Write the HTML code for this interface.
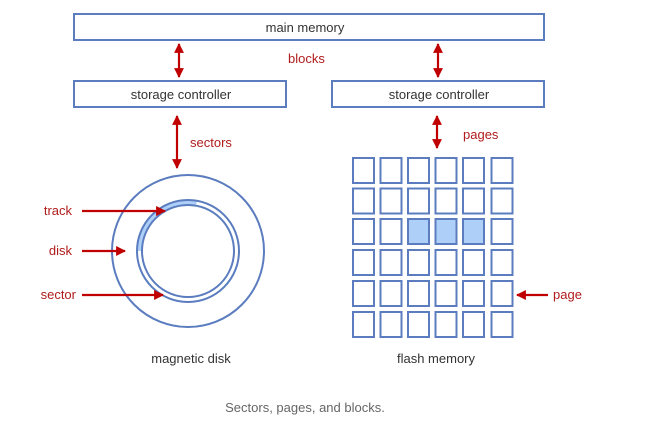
<!DOCTYPE html>
<html><head><meta charset="utf-8"><style>
html,body{margin:0;padding:0;background:#fff;}
svg{display:block;}
text{font-family:"Liberation Sans",sans-serif;font-size:13px;}
</style></head><body>
<svg width="657" height="444" viewBox="0 0 657 444" xmlns="http://www.w3.org/2000/svg">
<defs>
<marker id="a" viewBox="0 0 10 10" refX="9" refY="5" markerWidth="4.5" markerHeight="4.5" orient="auto-start-reverse"><path d="M0,0 L10,5 L0,10 z" fill="#c00000"/></marker>
</defs>
<g fill="none" stroke="#5b7dbf" stroke-width="2">
<rect x="74" y="14" width="470" height="26"/>
<rect x="74" y="81" width="212" height="26"/>
<rect x="332" y="81" width="212" height="26"/>
</g>
<g fill="#333" text-anchor="middle">
<text x="305" y="32">main memory</text>
<text x="181" y="99">storage controller</text>
<text x="439" y="99">storage controller</text>
<text x="191" y="363">magnetic disk</text>
<text x="436" y="363">flash memory</text>
</g>
<text x="305" y="412" text-anchor="middle" fill="#666">Sectors, pages, and blocks.</text>
<!-- disk -->
<path d="M136.5,251 A51.5,51.5 0 0 1 197,200.3 L196,206 A45.5,45.5 0 0 0 142.5,251 Z" fill="#aecff7"/>
<g fill="none" stroke="#5b7dbf" stroke-width="2">
<circle cx="188" cy="251" r="76"/>
<circle cx="188" cy="251" r="51"/>
<circle cx="188" cy="251" r="46"/>
</g>
<g stroke="#c00000" stroke-width="2.2" marker-start="url(#a)" marker-end="url(#a)">
<line x1="179" y1="44" x2="179" y2="77"/>
<line x1="438" y1="44" x2="438" y2="77"/>
<line x1="177" y1="116" x2="177" y2="168"/>
<line x1="437" y1="116" x2="437" y2="148"/>
</g>
<g stroke="#c00000" stroke-width="2.2" marker-end="url(#a)">
<line x1="82" y1="211" x2="165" y2="211"/>
<line x1="82" y1="251" x2="125" y2="251"/>
<line x1="82" y1="295" x2="163" y2="295"/>
<line x1="548" y1="295" x2="517" y2="295"/>
</g>
<g fill="#b01c1c">
<text x="288" y="63">blocks</text>
<text x="190" y="147">sectors</text>
<text x="463" y="139">pages</text>
<text x="553" y="299">page</text>
<text x="72" y="215" text-anchor="end">track</text>
<text x="72" y="255" text-anchor="end">disk</text>
<text x="76" y="299" text-anchor="end">sector</text>
</g>
<!-- grid -->
<g fill="none" stroke="#5b7dbf" stroke-width="2">
<rect x="353" y="158" width="21" height="25"/><rect x="380.5" y="158" width="21" height="25"/><rect x="408" y="158" width="21" height="25"/><rect x="435.5" y="158" width="21" height="25"/><rect x="463" y="158" width="21" height="25"/><rect x="491.5" y="158" width="21" height="25"/>
<rect x="353" y="188.5" width="21" height="25"/><rect x="380.5" y="188.5" width="21" height="25"/><rect x="408" y="188.5" width="21" height="25"/><rect x="435.5" y="188.5" width="21" height="25"/><rect x="463" y="188.5" width="21" height="25"/><rect x="491.5" y="188.5" width="21" height="25"/>
<rect x="353" y="219" width="21" height="25"/><rect x="380.5" y="219" width="21" height="25"/>
<rect x="408" y="219" width="21" height="25" fill="#aecff7"/><rect x="435.5" y="219" width="21" height="25" fill="#aecff7"/><rect x="463" y="219" width="21" height="25" fill="#aecff7"/>
<rect x="491.5" y="219" width="21" height="25"/>
<rect x="353" y="250" width="21" height="25"/><rect x="380.5" y="250" width="21" height="25"/><rect x="408" y="250" width="21" height="25"/><rect x="435.5" y="250" width="21" height="25"/><rect x="463" y="250" width="21" height="25"/><rect x="491.5" y="250" width="21" height="25"/>
<rect x="353" y="281" width="21" height="25"/><rect x="380.5" y="281" width="21" height="25"/><rect x="408" y="281" width="21" height="25"/><rect x="435.5" y="281" width="21" height="25"/><rect x="463" y="281" width="21" height="25"/><rect x="491.5" y="281" width="21" height="25"/>
<rect x="353" y="312" width="21" height="25"/><rect x="380.5" y="312" width="21" height="25"/><rect x="408" y="312" width="21" height="25"/><rect x="435.5" y="312" width="21" height="25"/><rect x="463" y="312" width="21" height="25"/><rect x="491.5" y="312" width="21" height="25"/>
</g>
</svg>
</body></html>
